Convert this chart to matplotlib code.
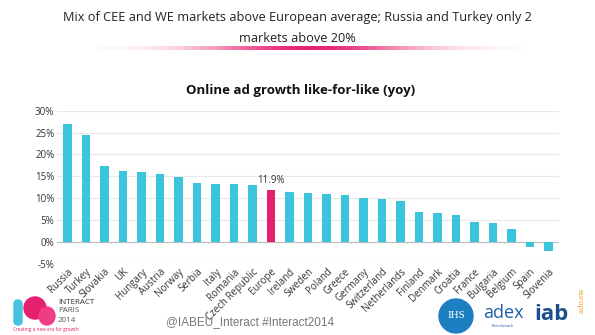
import numpy as np
import matplotlib.pyplot as plt
from matplotlib.patches import Circle, FancyBboxPatch, Ellipse

# Online ad growth like-for-like, year on year (%)
countries = ['Russia', 'Turkey', 'Slovakia', 'UK', 'Hungary', 'Austria', 'Norway',
             'Serbia', 'Italy', 'Romania', 'Czech Republic', 'Europe', 'Ireland',
             'Sweden', 'Poland', 'Greece', 'Germany', 'Switzerland', 'Netherlands',
             'Finland', 'Denmark', 'Croatia', 'France', 'Bulgaria', 'Belgium',
             'Spain', 'Slovenia']
growth = [26.9, 24.4, 17.3, 16.2, 16.0, 15.6, 14.7,
          13.4, 13.3, 13.1, 12.9, 11.9, 11.4,
          11.1, 10.9, 10.6, 9.9, 9.7, 9.3,
          6.9, 6.6, 6.2, 4.4, 4.2, 2.9,
          -1.2, -2.1]
yticks = [-5, 0, 5, 10, 15, 20, 25, 30]

CYAN = '#3CC4DC'
PINK = '#E5206E'

plt.rcParams['font.family'] = ['Open Sans', 'DejaVu Sans']

fig = plt.figure(figsize=(5.95, 3.35), dpi=100)
fig.patch.set_facecolor('white')

# slide heading and pink underline
fig.text(0.5, 0.948, 'Mix of CEE and WE markets above European average; Russia and Turkey only 2',
         ha='center', va='center', fontsize=9.2, color='#222222')
fig.text(0.5, 0.885, 'markets above 20%', ha='center', va='center', fontsize=9.2, color='#222222')
line_ax = fig.add_axes([0.16, 0.85, 0.72, 0.012])
grad = np.exp(-((np.linspace(-1, 1, 400)) ** 2) / 0.25)[None, :]
rgba = np.zeros((1, 400, 4))
rgba[..., 0], rgba[..., 1], rgba[..., 2] = 0.91, 0.13, 0.45
rgba[..., 3] = grad
line_ax.imshow(rgba, aspect='auto', extent=[0, 1, 0, 1])
line_ax.axis('off')

fig.text(0.505, 0.73, 'Online ad growth like-for-like (yoy)', ha='center', va='center',
         fontsize=9.5, fontweight='bold', color='#111111')

# bar chart
ax = fig.add_axes([0.096, 0.2134, 0.843, 0.4562])
x = np.arange(len(countries))
colors = [PINK if c == 'Europe' else CYAN for c in countries]
ax.bar(x, growth, width=0.45, color=colors, zorder=3)
eu = countries.index('Europe')
ax.text(x[eu], growth[eu] + 0.8, f'{growth[eu]}%', ha='center', va='bottom',
        fontsize=7, color='#333333')

ax.set_ylim(-5, 30)
ax.set_xlim(-0.56, len(countries) - 0.44)
ax.set_yticks(yticks)
ax.set_yticklabels([f'{v}%' for v in yticks], fontsize=7, color='#333333')
ax.set_xticks(x)
ax.set_xticklabels(countries, rotation=45, ha='right', rotation_mode='anchor',
                   fontsize=7, color='#333333')
ax.tick_params(axis='both', length=0, pad=2)
ax.grid(axis='y', color='#E8E8E8', linewidth=0.8, zorder=0)
ax.axhline(0, color='#BBBBBB', linewidth=0.8, zorder=2)
for s in ax.spines.values():
    s.set_visible(False)

fig.text(0.42, 0.04, '@IABEU_Interact #Interact2014', ha='center', va='center',
         fontsize=8.5, color='#777777', family=['Liberation Sans', 'DejaVu Sans'])

# footer logos
logo = fig.add_axes([0, 0, 1, 1], facecolor='none')
logo.set_xlim(0, 595)
logo.set_ylim(335, 0)
logo.axis('off')
logo.add_patch(FancyBboxPatch((14, 300), 8, 25, boxstyle='round,pad=0,rounding_size=4',
                              color='#45C3E0'))
logo.add_patch(Ellipse((35, 308), 22, 22, color=PINK))
logo.add_patch(Ellipse((47, 316), 16, 18, color='#EE3C85'))
logo.text(58, 302, 'INTERACT', fontsize=5.8, color='#333333', va='center')
logo.text(58, 311, 'PARIS', fontsize=5.8, color='#555555', va='center')
logo.text(58, 320, '2014', fontsize=5.8, color='#555555', va='center')
logo.text(13, 330, 'Creating a new era for growth', fontsize=3.4, color='#E5206E', va='center')

logo.add_patch(Circle((456, 316), 17, color='#1C7FC1'))
logo.text(456, 316, 'IHS', ha='center', va='center', fontsize=8, color='white',
          family=['Liberation Serif', 'DejaVu Serif'])
logo.text(503, 313, 'adex', ha='center', va='center', fontsize=13, color='#1E5FA8')
logo.text(503, 326, 'Benchmark', ha='center', va='center', fontsize=3, color='#1E5FA8')
logo.text(551, 314, 'iab', ha='center', va='center', fontsize=16, fontweight='bold',
          color='#1B4E8C')
logo.text(579, 302, 'europe', ha='center', va='center', fontsize=5.5, color='#F29A1F',
          rotation=-90)

fig.savefig('out.png', dpi=100)
